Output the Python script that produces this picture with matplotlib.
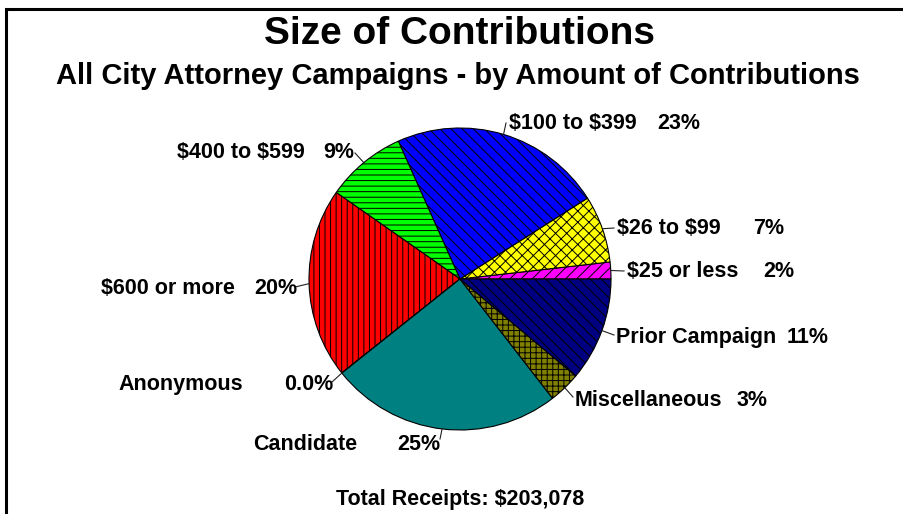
import matplotlib
matplotlib.use('Agg')
import matplotlib.pyplot as plt
from matplotlib.lines import Line2D
from matplotlib.transforms import IdentityTransform
import numpy as np

# ---------------- data ----------------
categories = ["$25 or less", "$26 to $99", "$100 to $399", "$400 to $599",
              "$600 or more", "Anonymous", "Candidate", "Miscellaneous",
              "Prior Campaign"]
shares = [1.8, 7.2, 22.7, 8.6, 20.4, 0.02, 24.8, 3.4, 11.1]
pct_labels = ["2%", "7%", "23%", "9%", "20%", "0.0%", "25%", "3%", "11%"]
title = "Size of Contributions"
subtitle = "All City Attorney Campaigns - by Amount of Contributions"
footer = "Total Receipts: $203,078"

# ---------------- style ----------------
colors = ["#FF00FF", "#FFFF00", "#0000FF", "#00FF00", "#FF0000",
          "#FFFFFF", "#008080", "#808000", "#000080"]
hatches = ["///", "xxx", "\\\\\\", "---", "|||", "", "", "+++", "\\\\\\"]

# label layout in pixels (top-left origin): name x, pct x, baseline y, leader end
layout = [
    (627, 763, 277, (624, 271)),
    (617, 753, 234, (614, 228)),
    (509, 657, 129, (506, 123)),
    (177, 323, 158, (355, 153)),
    (101, 254, 294, (295, 287)),
    (118, 284, 390, (332, 382)),
    (253, 397, 450, (440, 439)),
    (575, 737, 406, (573, 397)),
    (616, 787, 343, (614, 335)),
]

W, H = 904, 514
plt.rcParams['hatch.linewidth'] = 0.7
plt.rcParams['text.parse_math'] = False
plt.rcParams['font.family'] = ['Liberation Sans', 'DejaVu Sans']

fig = plt.figure(figsize=(W / 100, H / 100), dpi=100)
fig.patch.set_facecolor('white')

def fx(x):
    return x / W

def fy(y):
    return 1 - y / H

cx, cy, r = 460, 279, 151
ax = fig.add_axes([fx(cx - r), fy(cy + r), 2 * r / W, 2 * r / H])
wedges, _ = ax.pie(shares, colors=colors, startangle=0, counterclock=True,
                   radius=1.0,
                   wedgeprops=dict(edgecolor='black', linewidth=0.8))
for w, h in zip(wedges, hatches):
    if h:
        w.set_hatch(h)
ax.set_aspect('auto')
ax.set_xlim(-1, 1)
ax.set_ylim(-1, 1)
ax.axis('off')

for w, name, pct, (nx, px_, by, end) in zip(wedges, categories, pct_labels, layout):
    th = np.deg2rad((w.theta1 + w.theta2) / 2)
    sx, sy = ax.transData.transform((np.cos(th), np.sin(th)))
    ex, ey = end[0], H - end[1]
    fig.add_artist(Line2D([sx, ex], [sy, ey], transform=IdentityTransform(),
                          color='#202020', linewidth=0.8))
    fig.text(fx(nx), fy(by), name, fontsize=15.5, fontweight='bold',
             ha='left', va='baseline')
    fig.text(fx(px_), fy(by), pct, fontsize=15.5, fontweight='bold',
             ha='left', va='baseline')

fig.text(fx(460), fy(44), title, fontsize=28, fontweight='bold',
         ha='center', va='baseline')
fig.text(fx(458), fy(84), subtitle, fontsize=21, fontweight='bold',
         ha='center', va='baseline')
fig.text(fx(460), fy(505), footer, fontsize=15.5, fontweight='bold',
         ha='center', va='baseline')

# frame (left and top edges visible)
fig.add_artist(Line2D([fx(6), fx(6), 1.01], [-0.01, fy(9), fy(9)],
                      transform=fig.transFigure, color='black',
                      linewidth=2.2, solid_joinstyle='miter'))

fig.savefig('out.png', dpi=100)
